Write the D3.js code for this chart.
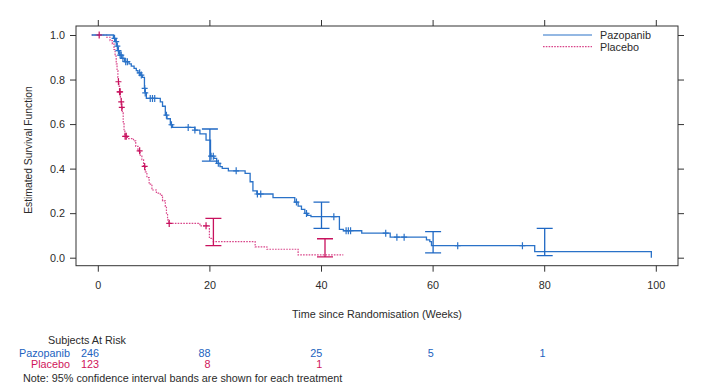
<!DOCTYPE html>
<html>
<head>
<meta charset="utf-8">
<script src="https://cdn.jsdelivr.net/npm/d3@7"></script>
<style>
  body { margin: 0; background: #fff; }
  svg { display: block; font-family: "Liberation Sans", Arial, sans-serif; }
</style>
</head>
<body>
<div id="chart"></div>
<script>
// Kaplan-Meier steps: [weeks, survival]
var pazopanibSteps = [
  [-1.1, 1.0], [2.8, 0.985], [3.2, 0.97], [3.4, 0.95], [3.6, 0.93], [3.9, 0.91],
  [4.3, 0.895], [4.8, 0.88], [5.6, 0.87], [6.0, 0.86], [6.5, 0.85], [6.9, 0.84],
  [7.2, 0.83], [7.6, 0.82], [8.0, 0.81], [8.36, 0.76], [8.5, 0.74], [8.7, 0.715],
  [11.2, 0.70], [11.6, 0.68], [12.1, 0.64], [12.4, 0.624], [13.0, 0.597], [13.4, 0.585],
  [17.4, 0.573], [18.3, 0.556], [19.4, 0.528], [20.2, 0.456], [20.8, 0.446], [21.3, 0.424],
  [21.9, 0.409], [22.3, 0.401], [23.4, 0.39], [26.4, 0.379], [27.3, 0.341], [27.8, 0.30],
  [28.5, 0.286], [31.4, 0.27], [35.3, 0.25], [35.9, 0.232], [36.5, 0.217], [37.1, 0.199],
  [37.6, 0.19], [38.2, 0.184], [43.3, 0.127], [44.0, 0.121], [47.3, 0.11], [52.4, 0.092],
  [58.9, 0.08], [59.5, 0.072], [59.8, 0.054], [78.3, 0.027], [99.2, 0.0]
];
var placeboSteps = [
  [-1.1, 1.0], [1.6, 0.99], [2.2, 0.975], [2.6, 0.96], [2.9, 0.935], [3.1, 0.905],
  [3.3, 0.87], [3.45, 0.84], [3.6, 0.81], [3.7, 0.79], [3.8, 0.77], [3.9, 0.745],
  [4.05, 0.72], [4.2, 0.70], [4.3, 0.675], [4.4, 0.65], [4.55, 0.61], [4.7, 0.575],
  [4.85, 0.545], [5.3, 0.535], [6.4, 0.525], [6.8, 0.50], [7.2, 0.48], [7.6, 0.46],
  [7.9, 0.44], [8.2, 0.41], [8.5, 0.385], [8.8, 0.36], [9.2, 0.33], [9.7, 0.304],
  [10.5, 0.29], [11.2, 0.28], [11.6, 0.255], [12.1, 0.23], [12.3, 0.20], [12.5, 0.17],
  [12.7, 0.154], [18.3, 0.143], [20.0, 0.087], [20.7, 0.072], [28.2, 0.049], [30.3, 0.038],
  [35.9, 0.013], [44.0, 0.013]
];

// censored observations (weeks)
var pazopanibCensored = [3.0, 3.3, 3.5, 3.7, 4.0, 4.2, 4.5, 5.0, 5.3, 7.5, 7.8, 8.4, 8.5,
  9.4, 9.8, 10.2, 12.3, 13.2, 16.2, 17.4, 20.3, 20.7, 21.6, 24.8, 28.6, 29.2, 35.6, 37.4,
  42.3, 44.5, 44.9, 45.3, 51.6, 53.6, 54.9, 64.5, 76.1];
var placeboCensored = [0.25, 3.7, 3.9, 4.0, 4.2, 4.3, 4.9, 5.1, 7.5, 8.4, 12.8, 19.4];

// 95% confidence intervals: [weeks, lower, upper]
var pazopanibCI = [[20, 0.434, 0.578], [40, 0.132, 0.25], [60, 0.022, 0.117], [80, 0.009, 0.132]];
var placeboCI = [[20, 0.054, 0.177], [40, 0.004, 0.085]];

var xTicks = [0, 20, 40, 60, 80, 100];
var yTicks = [0, 0.2, 0.4, 0.6, 0.8, 1.0];
var riskTimes = [0, 20, 40, 60, 80];
var pazopanibRisk = [246, 88, 25, 5, 1];
var placeboRisk = [123, 8, 1];

var W = 720, H = 387;
var blue = "#2a72c8", pink = "#d9468a", pinkDark = "#c8125e";
var blueText = "#2162c0", pinkText = "#d0145a", ink = "#2b2b2b";
var fs = "10.8px";

var svg = d3.select("#chart").append("svg").attr("width", W).attr("height", H);

var frame = { left: 76, top: 26, right: 678, bottom: 265.7 };
var x = d3.scaleLinear().domain([0, 100]).range([97.8, 655.8]);
var y = d3.scaleLinear().domain([0, 1]).range([257.7, 35]);

// frame
svg.append("rect")
  .attr("x", frame.left).attr("y", frame.top)
  .attr("width", frame.right - frame.left).attr("height", frame.bottom - frame.top)
  .attr("fill", "none").attr("stroke", "#333").attr("stroke-width", 1);

// axes: ticks on all four sides, labels bottom & left
function tickStyle(g) {
  g.select(".domain").remove();
  g.selectAll(".tick line").attr("stroke", "#333");
  g.selectAll(".tick text").attr("fill", ink).style("font-size", fs)
    .style("font-family", "Liberation Sans, Arial, sans-serif");
}
svg.append("g").attr("transform", "translate(0," + frame.bottom + ")")
  .call(d3.axisBottom(x).tickValues(xTicks).tickSize(6).tickPadding(10).tickFormat(d3.format("d")))
  .call(tickStyle);
svg.append("g").attr("transform", "translate(0," + frame.top + ")")
  .call(d3.axisTop(x).tickValues(xTicks).tickSize(6).tickFormat(""))
  .call(tickStyle);
svg.append("g").attr("transform", "translate(" + frame.left + ",0)")
  .call(d3.axisLeft(y).tickValues(yTicks).tickSize(6).tickPadding(5).tickFormat(d3.format(".1f")))
  .call(tickStyle);
svg.append("g").attr("transform", "translate(" + frame.right + ",0)")
  .call(d3.axisRight(y).tickValues(yTicks).tickSize(6).tickFormat(""))
  .call(tickStyle);

// axis titles
svg.append("text").attr("x", (frame.left + frame.right) / 2).attr("y", 318)
  .attr("text-anchor", "middle").attr("fill", ink).style("font-size", fs)
  .text("Time since Randomisation (Weeks)");
svg.append("text").attr("transform", "translate(32,150) rotate(-90)")
  .attr("text-anchor", "middle").attr("fill", ink).style("font-size", "10.3px")
  .text("Estimated Survival Function");

// step lines
var line = d3.line().x(function(d) { return x(d[0]); }).y(function(d) { return y(d[1]); })
  .curve(d3.curveStepAfter);

svg.append("path").datum(placeboSteps).attr("d", line)
  .attr("fill", "none").attr("stroke", pink).attr("stroke-width", 1.2)
  .attr("stroke-dasharray", "1.6,1.2");
svg.append("path").datum(pazopanibSteps).attr("d", line)
  .attr("fill", "none").attr("stroke", blue).attr("stroke-width", 1.3);

// survival value at time t
function survAt(steps, t) {
  var s = steps[0][1];
  steps.forEach(function(d) { if (d[0] <= t) s = d[1]; });
  return s;
}

function drawCensor(times, steps, color) {
  svg.append("g").selectAll("path").data(times).enter().append("path")
    .attr("d", function(t) {
      var cx = x(t), cy = y(survAt(steps, t));
      return "M" + (cx - 3) + "," + cy + "H" + (cx + 3) + "M" + cx + "," + (cy - 3.5) + "V" + (cy + 3.5);
    })
    .attr("stroke", color).attr("stroke-width", 1.2).attr("fill", "none");
}
drawCensor(placeboCensored, placeboSteps, pinkDark);
drawCensor(pazopanibCensored, pazopanibSteps, blue);

function drawCI(data, color, dx) {
  var g = svg.append("g").attr("stroke", color).attr("stroke-width", 1.3).attr("fill", "none");
  g.selectAll("path").data(data).enter().append("path")
    .attr("d", function(d) {
      var cx = x(d[0]) + dx, lo = y(d[1]), hi = y(d[2]);
      return "M" + cx + "," + lo + "V" + hi +
        "M" + (cx - 8) + "," + hi + "H" + (cx + 8) +
        "M" + (cx - 8) + "," + lo + "H" + (cx + 8);
    });
}
drawCI(pazopanibCI, "#1f68c4", 0.5);
drawCI(placeboCI, pinkDark, 4);

// legend
var legend = [
  { name: "Pazopanib", color: blue, dash: null, y: 35 },
  { name: "Placebo", color: pink, dash: "1.6,1.2", y: 46.7 }
];
legend.forEach(function(d) {
  svg.append("line").attr("x1", 543).attr("x2", 592).attr("y1", d.y).attr("y2", d.y)
    .attr("stroke", d.color).attr("stroke-width", 1.2).attr("stroke-dasharray", d.dash);
  svg.append("text").attr("x", 600).attr("y", d.y + 4).attr("fill", ink)
    .style("font-size", fs).text(d.name);
});

// subjects at risk
svg.append("text").attr("x", 48).attr("y", 344).attr("fill", ink).style("font-size", fs)
  .text("Subjects At Risk");
svg.append("text").attr("x", 70).attr("y", 357).attr("text-anchor", "end").attr("fill", blueText)
  .style("font-size", fs).text("Pazopanib");
svg.append("text").attr("x", 70).attr("y", 368).attr("text-anchor", "end").attr("fill", pinkText)
  .style("font-size", fs).text("Placebo");
svg.append("g").selectAll("text").data(pazopanibRisk).enter().append("text")
  .attr("x", function(d, i) { return x(riskTimes[i]) + 1.2; }).attr("y", 357)
  .attr("text-anchor", "end").attr("fill", blueText).style("font-size", fs)
  .text(function(d) { return d; });
svg.append("g").selectAll("text").data(placeboRisk).enter().append("text")
  .attr("x", function(d, i) { return x(riskTimes[i]) + 1.2; }).attr("y", 368)
  .attr("text-anchor", "end").attr("fill", pinkText).style("font-size", fs)
  .text(function(d) { return d; });
svg.append("text").attr("x", 23).attr("y", 382).attr("fill", ink).style("font-size", fs)
  .text("Note: 95% confidence interval bands are shown for each treatment");
</script>
</body>
</html>
